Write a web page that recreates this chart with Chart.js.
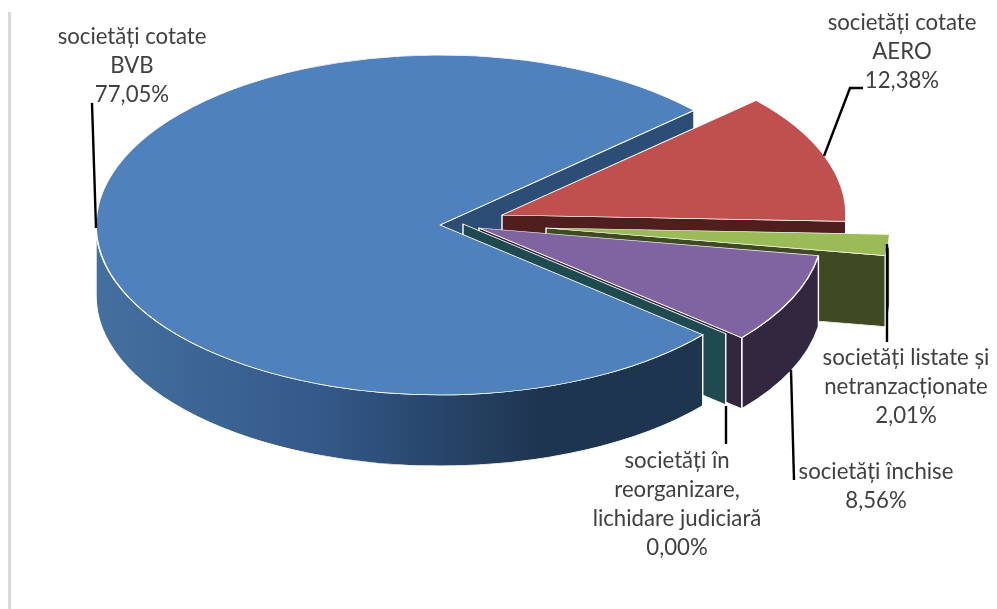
<!DOCTYPE html>
<html>
<head>
<meta charset="utf-8">
<style>
  html, body { margin: 0; padding: 0; background: #fff; }
  canvas { display: block; }
</style>
<script src="https://cdn.jsdelivr.net/npm/chart.js@4/dist/chart.umd.min.js"></script>
</head>
<body>
<canvas id="myChart" width="997" height="609"></canvas>
<script>
const categories = [
    ['societăți cotate', 'BVB'],
    ['societăți cotate', 'AERO'],
    ['societăți listate și', 'netranzacționate'],
    ['societăți închise'],
    ['societăți în', 'reorganizare,', 'lichidare judiciară']
];
const shares = [77.05, 12.38, 2.01, 8.56, 0.00];
const topColors = ['#4f81bd', '#c0504d', '#9bbb59', '#8064a2', '#4bacc6'];
const wallColors = ['#2c4d75', '#4f1e1d', '#3f4a23', '#33273f', '#1f4a50'];

// --- 3D look ---
const squash = 0.494;      // ellipse height / width
const depth = 71 / squash; // wall height, before the squash
// how far each slice is pulled out, in page pixels
const explodeX = [0, 62, 106, 39, 23];
const explodeY = [0, -10, 3, 3, -1];

// where each label sits: centre x, first baseline, and its leader line
const labelLayout = [
    { x: 132, y: 44, leader: [[92, 103], [96, 228]] },
    { x: 902, y: 30, leader: [[863, 88], [850, 88], [824, 156]] },
    { x: 906, y: 365, leader: [[887, 244], [887, 342]] },
    { x: 876, y: 479, leader: [[791, 370], [794, 480]] },
    { x: 677, y: 468, leader: [[726, 406], [726, 444]] }
];

function sliceGeometry(arc, i) {
    return {
        x: arc.x + explodeX[i],
        y: arc.y + explodeY[i] / squash,
        r: arc.outerRadius
    };
}

function fillWall(ctx, fill) {
    ctx.fillStyle = fill;
    ctx.fill();
    ctx.strokeStyle = '#ffffff';
    ctx.lineWidth = 1.4;
    ctx.stroke();
}

// flat wall below the straight edge running from the apex to the rim
function drawCutWall(ctx, arc, i, angle, fill) {
    const s = sliceGeometry(arc, i);
    const rimX = s.x + Math.cos(angle) * s.r;
    const rimY = s.y + Math.sin(angle) * s.r;
    ctx.beginPath();
    ctx.moveTo(s.x, s.y);
    ctx.lineTo(rimX, rimY);
    ctx.lineTo(rimX, rimY + depth);
    ctx.lineTo(s.x, s.y + depth);
    ctx.closePath();
    fillWall(ctx, fill);
}

// curved wall below the rim, only the part that faces the viewer
function drawRimWall(ctx, arc, i, fill) {
    const s = sliceGeometry(arc, i);
    // slices after the first run past a full turn, bring them back
    const turn = arc.endAngle > Math.PI * 2 ? Math.PI * 2 : 0;
    const from = Math.max(arc.startAngle - turn, 0);
    const to = Math.min(arc.endAngle - turn, Math.PI);
    if (to <= from) return;
    ctx.beginPath();
    ctx.arc(s.x, s.y, s.r, from, to);
    ctx.arc(s.x, s.y + depth, s.r, to, from, true);
    ctx.closePath();
    fillWall(ctx, fill);
}

// the library's own arc element, moved out of the centre
function drawTop(ctx, arc, i) {
    const s = sliceGeometry(arc, i);
    ctx.save();
    ctx.translate(s.x - arc.x, s.y - arc.y);
    arc.draw(ctx);
    ctx.restore();
}

const pie3d = {
    id: 'pie3d',
    beforeDatasetsDraw(chart) {
        const ctx = chart.ctx;
        const arcs = chart.getDatasetMeta(0).data;
        const cy = arcs[0].y;

        ctx.save();
        ctx.translate(0, cy);
        ctx.scale(1, squash);
        ctx.translate(0, -cy);

        const [blue, red, green, purple, teal] = arcs;

        // back to front
        drawCutWall(ctx, blue, 0, blue.endAngle, wallColors[0]);

        drawCutWall(ctx, red, 1, red.endAngle, wallColors[1]);
        drawRimWall(ctx, red, 1, wallColors[1]);
        drawTop(ctx, red, 1);

        drawCutWall(ctx, green, 2, green.endAngle, wallColors[2]);
        drawRimWall(ctx, green, 2, wallColors[2]);
        drawTop(ctx, green, 2);

        drawRimWall(ctx, purple, 3, wallColors[3]);
        drawCutWall(ctx, purple, 3, purple.endAngle, wallColors[3]);
        drawCutWall(ctx, teal, 4, teal.startAngle, wallColors[4]);
        drawTop(ctx, purple, 3);

        const b = sliceGeometry(blue, 0);
        const shade = ctx.createLinearGradient(b.x - b.r, 0, b.x + 100, 0);
        shade.addColorStop(0, '#44709f');
        shade.addColorStop(0.5, '#34598a');
        shade.addColorStop(1, '#1e3550');
        drawRimWall(ctx, blue, 0, shade);
        drawTop(ctx, blue, 0);

        ctx.restore();
        return false;
    },
    afterDraw(chart) {
        const ctx = chart.ctx;
        ctx.save();

        // grey frame edge on the left
        ctx.fillStyle = '#d9d9d9';
        ctx.fillRect(8, 12, 3, 597);

        // leader lines
        ctx.strokeStyle = '#000000';
        ctx.lineWidth = 2.4;
        labelLayout.forEach(function (layout) {
            ctx.beginPath();
            layout.leader.forEach(function (p, i) {
                if (i === 0) ctx.moveTo(p[0], p[1]);
                else ctx.lineTo(p[0], p[1]);
            });
            ctx.stroke();
        });

        // labels
        ctx.fillStyle = '#404040';
        ctx.font = '22.2px Lato, "Open Sans", sans-serif';
        ctx.textAlign = 'center';
        ctx.textBaseline = 'alphabetic';
        categories.forEach(function (lines, i) {
            const percent = shares[i].toFixed(2).replace('.', ',') + '%';
            lines.concat(percent).forEach(function (line, n) {
                ctx.fillText(line, labelLayout[i].x, labelLayout[i].y + n * 29);
            });
        });
        ctx.restore();
    }
};

new Chart(document.getElementById('myChart').getContext('2d'), {
    type: 'pie',
    data: {
        labels: categories.map(c => c.join(' ')),
        datasets: [{
            data: shares,
            backgroundColor: topColors,
            borderColor: '#ffffff',
            borderWidth: 1.5,
            radius: 344
        }]
    },
    options: {
        responsive: false,
        animation: false,
        events: [],
        rotation: 130.2,
        layout: { padding: { left: 0, top: 0, right: 117, bottom: 159 } },
        plugins: {
            legend: { display: false },
            tooltip: { enabled: false }
        }
    },
    plugins: [pie3d]
});
</script>
</body>
</html>
